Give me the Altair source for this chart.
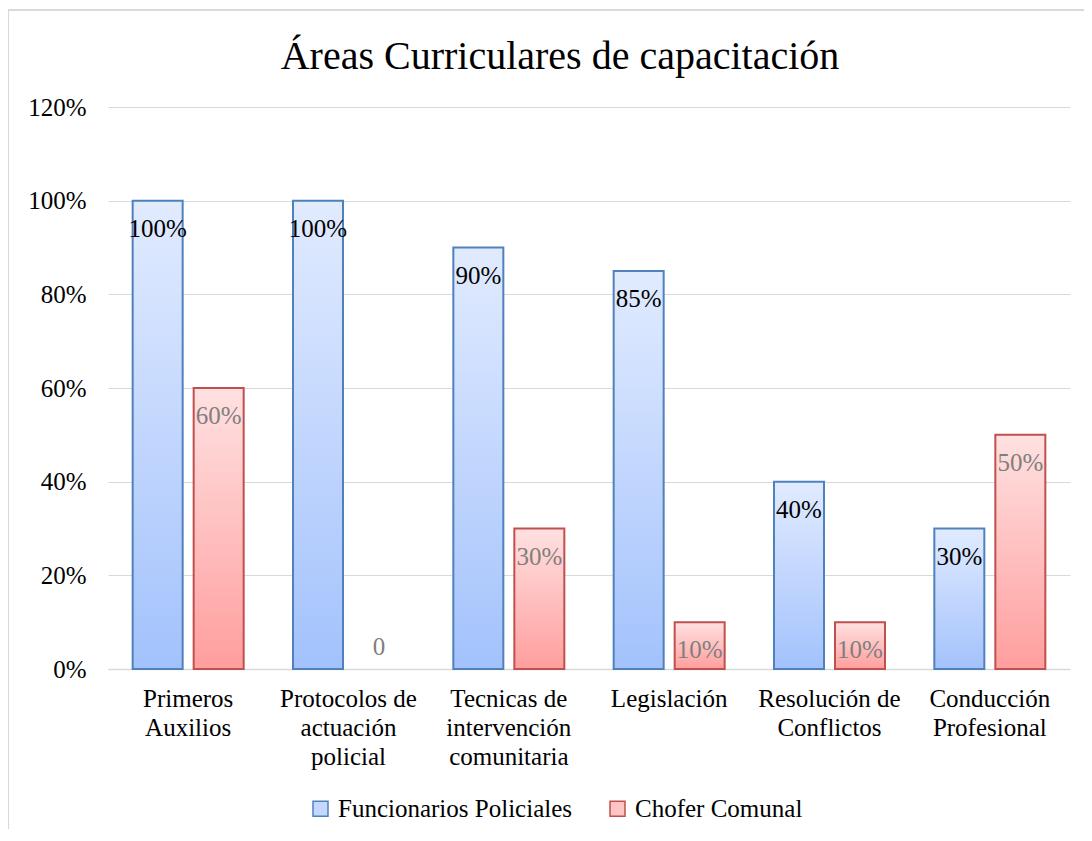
import altair as alt
import pandas as pd

categories = [
    "Primeros\nAuxilios",
    "Protocolos de\nactuación\npolicial",
    "Tecnicas de\nintervención\ncomunitaria",
    "Legislación",
    "Resolución de\nConflictos",
    "Conducción\nProfesional",
]
series = ["Funcionarios Policiales", "Chofer Comunal"]
funcionarios = [1.00, 1.00, 0.90, 0.85, 0.40, 0.30]
chofer = [0.60, 0.00, 0.30, 0.10, 0.10, 0.50]
y_ticks = [0, 0.2, 0.4, 0.6, 0.8, 1.0, 1.2]

rows = []
for c, f, ch in zip(categories, funcionarios, chofer):
    rows.append({"cat": c, "series": series[0], "v": f})
    rows.append({"cat": c, "series": series[1], "v": ch})
df = pd.DataFrame(rows)

FONT = "Liberation Serif"
blue_grad = {"gradient": "linear", "x1": 0, "y1": 0, "x2": 0, "y2": 1,
             "stops": [{"offset": 0, "color": "#e1ebff"}, {"offset": 1, "color": "#a3c2fc"}]}
red_grad = {"gradient": "linear", "x1": 0, "y1": 0, "x2": 0, "y2": 1,
            "stops": [{"offset": 0, "color": "#ffe1e1"}, {"offset": 1, "color": "#ff9e9e"}]}

x_enc = alt.X("cat:N", sort=categories, title=None,
              scale=alt.Scale(paddingInner=0.239, paddingOuter=0.1195),
              axis=alt.Axis(labelExpr="split(datum.label, '\\n')", labelAngle=0,
                            labelFont=FONT, labelFontSize=25, labelColor="#000000",
                            labelLineHeight=29, labelPadding=17, ticks=False,
                            domainColor="#d9d9d9", domainWidth=1.5, grid=False))
xo_enc = alt.XOffset("series:N", sort=series, scale=alt.Scale(domain=series, paddingInner=0, paddingOuter=0))
y_enc = alt.Y("v:Q", title=None,
              scale=alt.Scale(domain=[0, 1.2], nice=False),
              axis=alt.Axis(values=y_ticks, format=".0%", labelFont=FONT, labelFontSize=25,
                            labelColor="#000000", labelPadding=22, ticks=False, domain=False,
                            gridColor="#d9d9d9", gridWidth=1.2))
color_enc = alt.Color("series:N", sort=series,
                      scale=alt.Scale(domain=series, range=["#c4d7fd", "#ffc4c4"]),
                      legend=alt.Legend(title=None, orient="none", legendX=200, legendY=689,
                                        direction="horizontal", symbolType="square",
                                        symbolSize=225, symbolStrokeWidth=1.5,
                                        symbolStrokeColor={"expr": "datum.value == 'Chofer Comunal' ? '#c0504d' : '#4f81bd'"},
                                        labelFont=FONT, labelFontSize=25, labelColor="#000000",
                                        columnPadding=33, labelOffset=5, labelLimit=400))

base = alt.Chart(df)

bars_blue = base.transform_filter(alt.datum.series == series[0]).transform_filter(alt.datum.v > 0).mark_bar(
    fill=blue_grad, stroke="#4f81bd", strokeWidth=2, width=50
).encode(x=x_enc, xOffset=xo_enc, y=y_enc, color=color_enc)

bars_red = base.transform_filter(alt.datum.series == series[1]).transform_filter(alt.datum.v > 0).mark_bar(
    fill=red_grad, stroke="#c0504d", strokeWidth=2, width=50
).encode(x=x_enc, xOffset=xo_enc, y=y_enc, color=color_enc)

labels = base.transform_filter(alt.datum.v > 0).transform_calculate(
    label="format(datum.v, '.0%')"
).mark_text(font=FONT, fontSize=25, baseline="middle", dy=28).encode(
    x=x_enc, xOffset=xo_enc, y=y_enc, text="label:N",
    color=alt.condition(alt.datum.series == series[0], alt.value("#000000"), alt.value("#7f7f7f")),
)

zero_labels = base.transform_filter(alt.datum.v == 0).transform_calculate(
    label="'0'"
).mark_text(font=FONT, fontSize=25, baseline="middle", dy=-22, color="#7f7f7f").encode(
    x=x_enc, xOffset=xo_enc, y=y_enc, text="label:N"
)

frame_df = pd.DataFrame({"k": [0]})
frame = alt.Chart(frame_df).mark_rect(fill=None, stroke="#d9d9d9", strokeWidth=2).encode(
    x=alt.value(-100), x2=alt.value(1100), y=alt.value(-97), y2=alt.value(900)
)

chart = alt.layer(frame, bars_blue, bars_red, labels, zero_labels).properties(
    width=962, height=562,
    title=alt.TitleParams("Áreas Curriculares de capacitación", font=FONT, fontSize=40,
                          fontWeight="normal", color="#000000", anchor="middle", frame="group",
                          baseline="alphabetic", dx=-29, dy=100, offset=0),
    autosize=alt.AutoSizeParams(type="none"),
    padding={"left": 100, "top": 99, "right": 14, "bottom": 160},
).configure(background="#ffffff").configure_view(stroke=None)

chart.save("out.html", embed_options={"renderer": "svg", "actions": False})
